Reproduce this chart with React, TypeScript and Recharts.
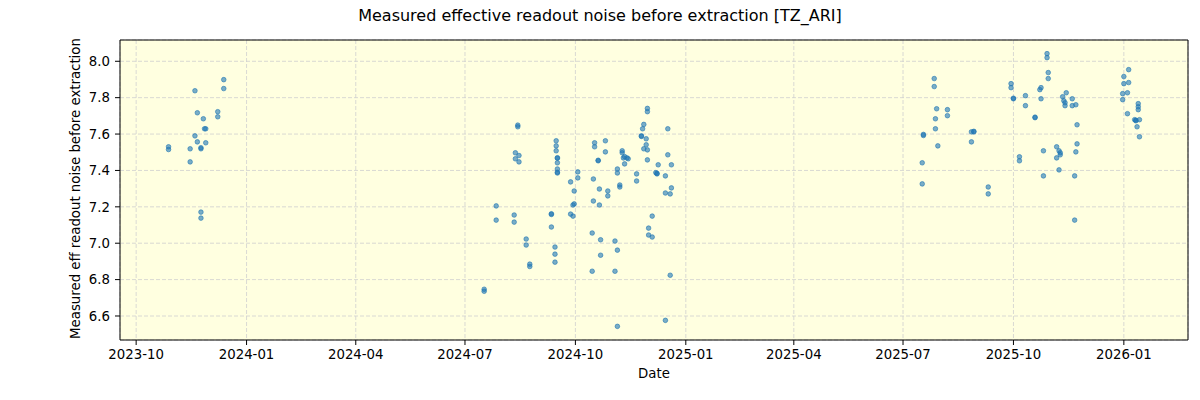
import { CartesianGrid, ReferenceLine, Scatter, ScatterChart, XAxis, YAxis } from "recharts";

// [date, measured eff readout noise] per observing season
const season2023: [string, number][] = [
  ["2023-10-28", 7.53], ["2023-10-28", 7.515],
  ["2023-11-15", 7.519], ["2023-11-15", 7.447],
  ["2023-11-19", 7.838], ["2023-11-19", 7.59],
  ["2023-11-21", 7.717], ["2023-11-21", 7.557],
  ["2023-11-24", 7.519], ["2023-11-24", 7.525], ["2023-11-24", 7.171], ["2023-11-24", 7.138],
  ["2023-11-26", 7.684],
  ["2023-11-27", 7.629], ["2023-11-28", 7.629], ["2023-11-28", 7.552],
  ["2023-12-08", 7.723], ["2023-12-08", 7.695],
  ["2023-12-13", 7.899], ["2023-12-13", 7.85],
];

const season2024: [string, number][] = [
  ["2024-07-17", 6.747], ["2024-07-17", 6.736],
  ["2024-07-27", 7.205], ["2024-07-27", 7.127],
  ["2024-08-11", 7.155], ["2024-08-11", 7.116],
  ["2024-08-12", 7.497], ["2024-08-12", 7.464],
  ["2024-08-14", 7.649], ["2024-08-14", 7.64],
  ["2024-08-15", 7.482], ["2024-08-15", 7.447],
  ["2024-08-21", 7.023], ["2024-08-21", 6.99],
  ["2024-08-24", 6.885], ["2024-08-24", 6.872],
  ["2024-09-11", 7.158], ["2024-09-11", 7.162], ["2024-09-11", 7.089],
  ["2024-09-14", 6.979], ["2024-09-14", 6.94], ["2024-09-14", 6.896],
  ["2024-09-15", 7.563], ["2024-09-15", 7.535], ["2024-09-15", 7.508],
  ["2024-09-16", 7.467], ["2024-09-16", 7.47], ["2024-09-16", 7.442], ["2024-09-16", 7.408], ["2024-09-16", 7.386], ["2024-09-16", 7.39],
  ["2024-09-27", 7.337], ["2024-09-27", 7.16],
  ["2024-09-29", 7.21], ["2024-09-29", 7.149],
  ["2024-09-30", 7.287], ["2024-09-30", 7.216],
  ["2024-10-03", 7.392], ["2024-10-03", 7.359],
  ["2024-10-15", 7.056], ["2024-10-15", 6.846],
  ["2024-10-16", 7.353], ["2024-10-16", 7.232],
  ["2024-10-17", 7.552], ["2024-10-17", 7.53],
  ["2024-10-20", 7.453], ["2024-10-20", 7.456],
  ["2024-10-21", 7.298], ["2024-10-21", 7.21],
  ["2024-10-22", 7.019], ["2024-10-22", 6.934],
  ["2024-10-26", 7.563], ["2024-10-26", 7.502],
  ["2024-10-28", 7.287], ["2024-10-28", 7.26],
  ["2024-11-03", 7.012], ["2024-11-03", 6.846],
  ["2024-11-05", 7.408], ["2024-11-05", 7.386], ["2024-11-05", 6.962], ["2024-11-05", 6.543],
  ["2024-11-07", 7.32], ["2024-11-07", 7.309],
  ["2024-11-09", 7.508], ["2024-11-09", 7.497],
  ["2024-11-10", 7.469],
  ["2024-11-11", 7.476], ["2024-11-11", 7.436],
  ["2024-11-13", 7.469],
  ["2024-11-14", 7.464],
  ["2024-11-21", 7.381], ["2024-11-21", 7.342],
  ["2024-11-25", 7.587], ["2024-11-25", 7.59],
  ["2024-11-26", 7.629],
  ["2024-11-27", 7.653], ["2024-11-27", 7.519],
  ["2024-11-29", 7.574], ["2024-11-29", 7.541],
  ["2024-11-30", 7.741], ["2024-11-30", 7.723], ["2024-11-30", 7.513], ["2024-11-30", 7.458],
  ["2024-12-01", 7.083], ["2024-12-01", 7.045],
  ["2024-12-04", 7.149], ["2024-12-04", 7.034],
  ["2024-12-07", 7.388],
  ["2024-12-08", 7.381], ["2024-12-08", 7.384],
  ["2024-12-09", 7.431],
  ["2024-12-15", 7.37], ["2024-12-15", 7.276], ["2024-12-15", 6.576],
  ["2024-12-17", 7.629], ["2024-12-17", 7.486],
  ["2024-12-19", 7.271], ["2024-12-19", 6.824],
  ["2024-12-20", 7.431], ["2024-12-20", 7.304],
];

const season2025: [string, number][] = [
  ["2025-07-17", 7.442], ["2025-07-17", 7.326],
  ["2025-07-18", 7.592], ["2025-07-18", 7.598],
  ["2025-07-27", 7.905], ["2025-07-27", 7.861],
  ["2025-07-28", 7.684], ["2025-07-28", 7.629],
  ["2025-07-29", 7.739],
  ["2025-07-30", 7.535],
  ["2025-08-07", 7.734], ["2025-08-07", 7.701],
  ["2025-08-27", 7.612], ["2025-08-27", 7.557],
  ["2025-08-29", 7.612], ["2025-08-29", 7.615],
  ["2025-09-10", 7.309], ["2025-09-10", 7.271],
  ["2025-09-29", 7.877], ["2025-09-29", 7.855],
  ["2025-10-01", 7.794], ["2025-10-01", 7.797],
  ["2025-10-06", 7.475], ["2025-10-06", 7.453],
  ["2025-10-11", 7.811], ["2025-10-11", 7.756],
  ["2025-10-19", 7.69], ["2025-10-19", 7.693],
  ["2025-10-23", 7.844],
  ["2025-10-24", 7.855], ["2025-10-24", 7.794],
  ["2025-10-26", 7.508], ["2025-10-26", 7.37],
  ["2025-10-29", 8.042], ["2025-10-29", 8.02],
  ["2025-10-30", 7.938], ["2025-10-30", 7.905],
  ["2025-11-06", 7.53], ["2025-11-06", 7.469],
  ["2025-11-08", 7.508], ["2025-11-08", 7.403],
  ["2025-11-09", 7.497], ["2025-11-09", 7.486],
  ["2025-11-11", 7.805],
  ["2025-11-12", 7.783],
  ["2025-11-13", 7.772], ["2025-11-13", 7.756],
  ["2025-11-14", 7.827],
  ["2025-11-19", 7.794], ["2025-11-19", 7.756],
  ["2025-11-21", 7.37], ["2025-11-21", 7.127],
  ["2025-11-22", 7.761], ["2025-11-22", 7.502],
  ["2025-11-23", 7.651], ["2025-11-23", 7.546],
];

const season2026: [string, number][] = [
  ["2025-12-31", 7.822], ["2025-12-31", 7.789],
  ["2026-01-01", 7.916], ["2026-01-01", 7.877],
  ["2026-01-04", 7.827], ["2026-01-04", 7.712],
  ["2026-01-05", 7.954], ["2026-01-05", 7.883],
  ["2026-01-10", 7.679],
  ["2026-01-11", 7.673], ["2026-01-11", 7.676],
  ["2026-01-12", 7.64],
  ["2026-01-13", 7.767], ["2026-01-13", 7.75], ["2026-01-13", 7.734],
  ["2026-01-14", 7.679], ["2026-01-14", 7.585],
];

const xTickLabels = ["2023-10", "2024-01", "2024-04", "2024-07", "2024-10", "2025-01", "2025-04", "2025-07", "2025-10", "2026-01"];
const yTicks = [6.6, 6.8, 7.0, 7.2, 7.4, 7.6, 7.8, 8.0];

const points = [...season2023, ...season2024, ...season2025, ...season2026].map(([d, v]) => ({ t: Date.parse(d), v }));
const xTicks = xTickLabels.map((m) => Date.parse(`${m}-01`));

// matplotlib-style 5% autoscale margins
const pad = (lo: number, hi: number): [number, number] => [lo - (hi - lo) * 0.05, hi + (hi - lo) * 0.05];
const xDomain = pad(Math.min(...points.map((p) => p.t)), Math.max(...points.map((p) => p.t)));
const yDomain = pad(Math.min(...points.map((p) => p.v)), Math.max(...points.map((p) => p.v)));

const font = "'DejaVu Sans', sans-serif";
const tick = { fill: "#000", fontSize: 13.3, fontFamily: font };
const frame = { stroke: "#000", strokeWidth: 1 };

const Dot = (props: any) => (
  <circle cx={props.cx} cy={props.cy} r={2.3} fill="#1f77b4" fillOpacity={0.6} stroke="#1f77b4" strokeOpacity={0.6} strokeWidth={1} />
);

export default function App() {
  return (
    <div style={{ position: "absolute", left: 0, top: 0, width: 1200, height: 400, background: "#fff", fontFamily: font }}>
      <div style={{ position: "absolute", top: 6, left: 0, width: 1200, textAlign: "center", fontSize: 16, color: "#000" }}>
        Measured effective readout noise before extraction [TZ_ARI]
      </div>
      <div style={{ position: "absolute", top: 366, left: 120, width: 1068, textAlign: "center", fontSize: 13.3, color: "#000" }}>
        Date
      </div>
      <div
        style={{
          position: "absolute", left: 75, top: 190, width: 400, marginLeft: -200, marginTop: -9, textAlign: "center",
          fontSize: 13.3, color: "#000", transform: "rotate(-90deg)", whiteSpace: "nowrap",
        }}
      >
        Measured eff readout noise before extraction
      </div>
      <ScatterChart width={1200} height={400} margin={{ top: 40, right: 12, bottom: 20, left: 60 }}>
        <CartesianGrid fill="#FFFFE0" fillOpacity={1} stroke="#cfcfcf" strokeDasharray="4 2" strokeWidth={0.8} />
        <XAxis
          type="number" dataKey="t" domain={xDomain} ticks={xTicks} allowDataOverflow height={40}
          tickFormatter={(t: number) => new Date(t).toISOString().slice(0, 7)}
          tick={tick} tickSize={5} tickMargin={5} axisLine={frame} tickLine={frame}
        />
        <YAxis
          type="number" dataKey="v" domain={yDomain} ticks={yTicks} allowDataOverflow width={60}
          tickFormatter={(v: number) => v.toFixed(1)}
          tick={tick} tickSize={5} tickMargin={5} axisLine={frame} tickLine={frame}
        />
        <ReferenceLine y={yDomain[1]} stroke="#000" strokeWidth={1} />
        <ReferenceLine x={xDomain[1]} stroke="#000" strokeWidth={1} />
        <Scatter data={points} shape={Dot} isAnimationActive={false} />
      </ScatterChart>
    </div>
  );
}
